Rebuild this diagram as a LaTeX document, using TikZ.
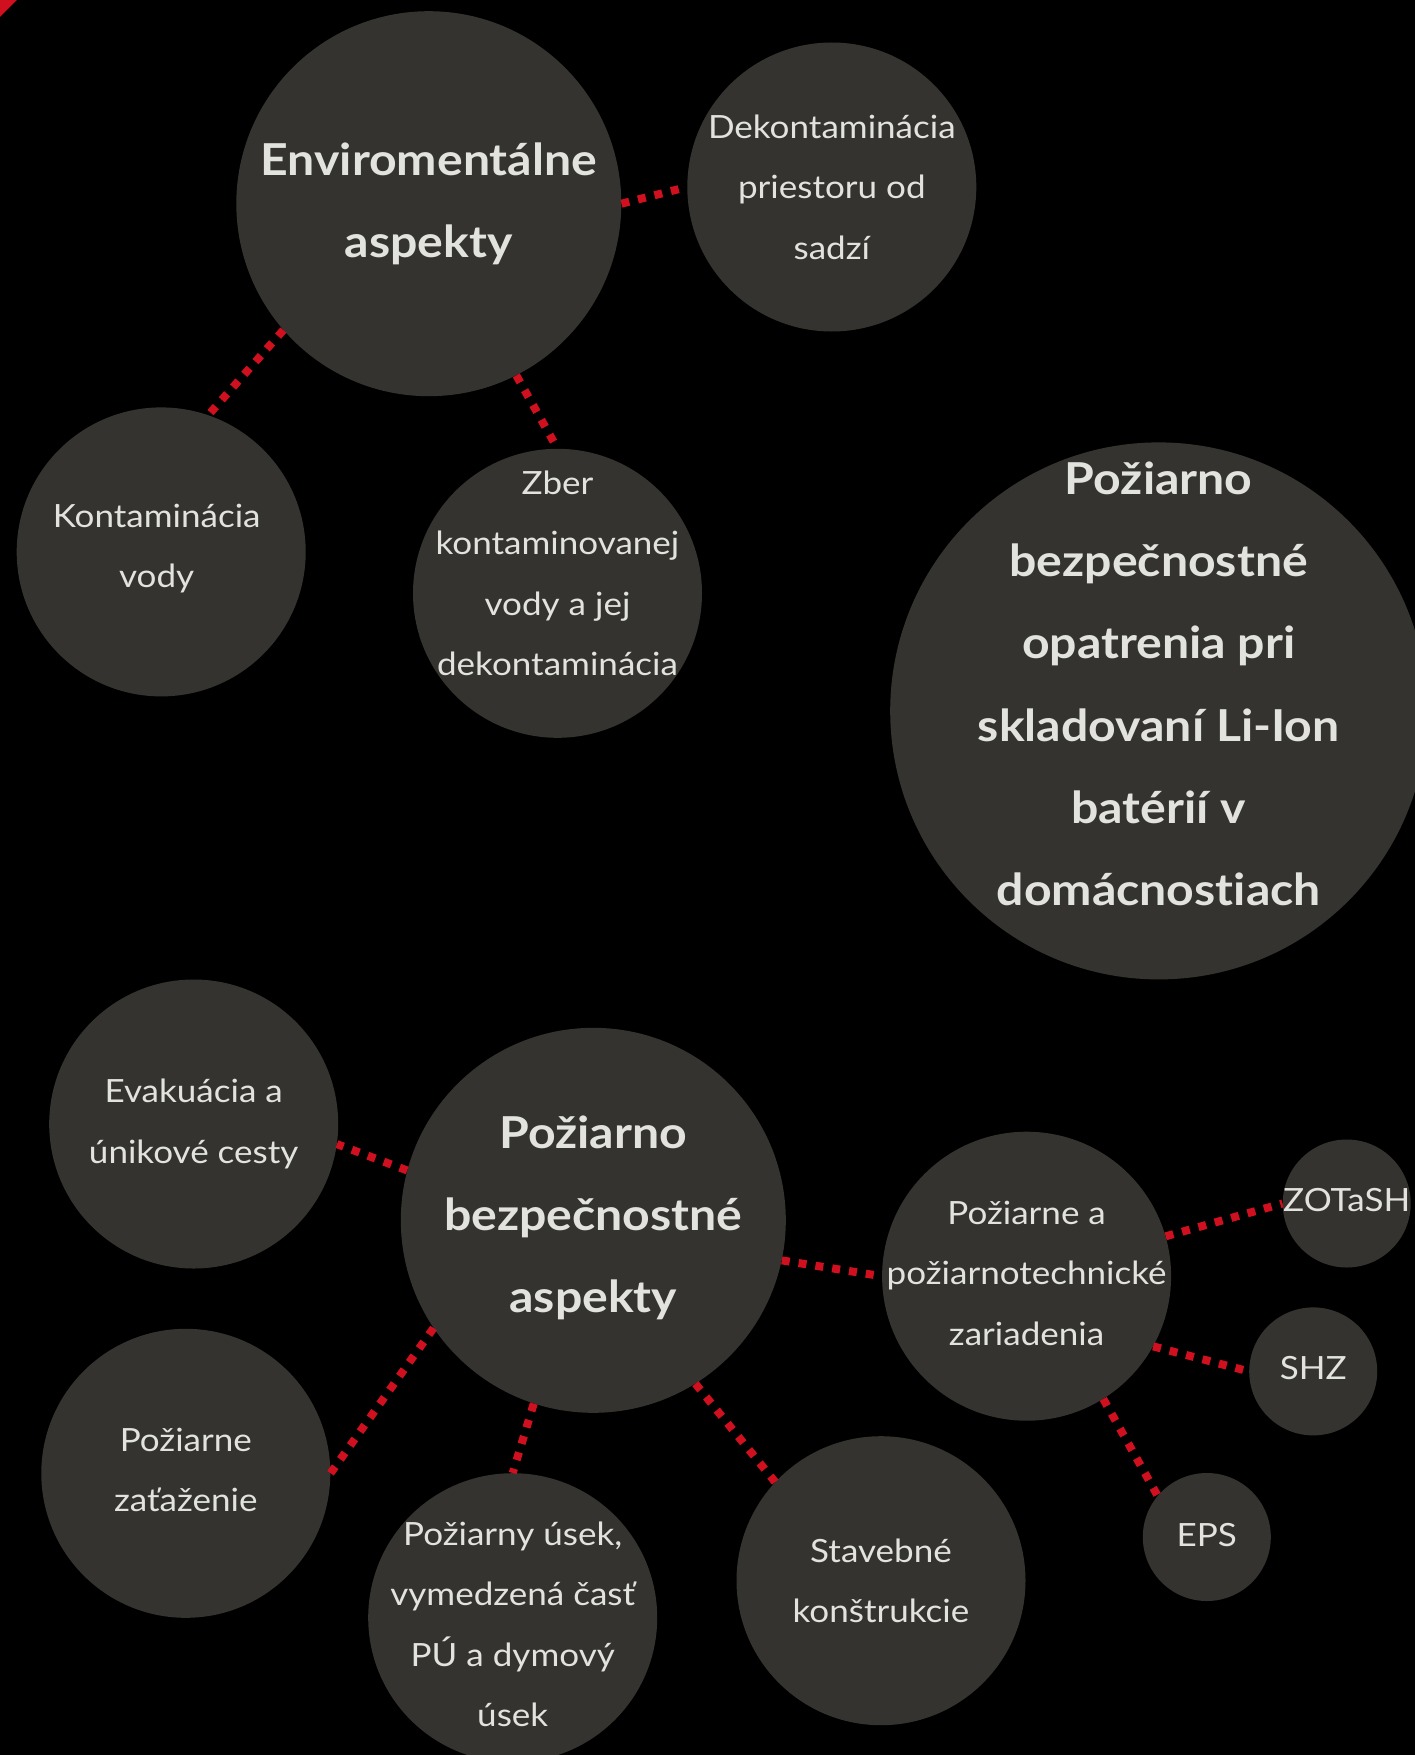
\documentclass[tikz,border=0pt]{standalone}
\usepackage{fontspec}
\setmainfont{Lato}[FakeStretch=1.095,Ligatures={NoCommon,NoDiscretionary,NoRare}]
\definecolor{bubble}{HTML}{34332F}
\definecolor{txt}{HTML}{E2E2DF}
\definecolor{dotred}{HTML}{D0101E}
\begin{document}
\begin{tikzpicture}[x=1pt,y=-1pt,
  big/.style={circle,fill=bubble,minimum size=385pt,inner sep=0pt},
  mid/.style={circle,fill=bubble,minimum size=289pt,inner sep=0pt},
  sml/.style={circle,fill=bubble,minimum size=128pt,inner sep=0pt},
  huge/.style={circle,fill=bubble,minimum size=537pt,inner sep=0pt},
  lbl/.style={text=txt,align=center,inner sep=0pt,font=\fontsize{32}{60.5}\selectfont},
  blbl/.style={text=txt,align=center,inner sep=0pt,font=\fontsize{44}{82.3}\selectfont\bfseries},
  link/.style={draw=dotred,line width=8pt,dash pattern=on 8pt off 9pt}]
\fill[black] (0,0) rectangle (1415,1755);
\useasboundingbox (0,0) rectangle (1415,1755);
\clip (0,0) rectangle (1415,1755);
\fill[dotred] (0,0) -- (17,0) -- (0,17) -- cycle;
% circles
\node[big]  (env)  at (428.8,203.7) {};
\node[mid]  (dek)  at (831.8,187.0) {};
\node[mid]  (kon)  at (161.2,551.9) {};
\node[mid]  (zber) at (557.5,593.3) {};
\node[huge] (opat) at (1158.7,710.9) {};
\node[big]  (pba)  at (593.3,1220.3) {};
\node[mid]  (evak) at (193.7,1124.0) {};
\node[mid]  (zat)  at (185.8,1473.3) {};
\node[mid]  (usek) at (512.7,1617.7) {};
\node[mid]  (stav) at (881.0,1580.7) {};
\node[mid]  (pza)  at (1026.6,1276.2) {};
\node[sml]  (zot)  at (1346.7,1203.5) {};
\node[sml]  (shz)  at (1313.2,1371.4) {};
\node[sml]  (eps)  at (1206.8,1537.0) {};
% connectors
\draw[link] (env.0) -- (dek.180);
\draw[link] (env.221.5) -- (kon.71.6);
\draw[link] (env.297) -- (zber.90);
\draw[link] (pba.165) -- (evak.-8);
\draw[link] (pba.214.5) -- (zat.0);
\draw[link] (pba.252.4) -- (usek.90);
\draw[link] (pba.302.3) -- (stav.137);
\draw[link] (pba.-12.3) -- (pza.180);
\draw[link] (pza.16.4) -- (zot.180);
\draw[link] (pza.-29) -- (shz.180);
\draw[link] (pza.-58.7) -- (eps.140);
% texts
\node[blbl] (tenv) at (428.8,203.7) {Enviromentálne\\aspekty};
\node[lbl] (tdek) at (831.8,187.0) {Dekontaminácia\\priestoru od\\sadzí};
\node[lbl] (tkon) at (156.7,548.6) {Kontaminácia\\vody};
\node[lbl] (tzber) at (557.5,573.2) {Zber\\kontaminovanej\\vody a jej\\dekontaminácia};
\node[blbl] (topat) at (1158.7,684.0) {Požiarno\\bezpečnostné\\opatrenia pri\\skladovaní Li-Ion\\batérií v\\domácnos\kern0pt t\kern0pt iach};
\node[blbl] (tpba) at (593.3,1218.0) {Požiarno\\bezpečnostné\\aspekty};
\node[lbl] (tevak) at (193.7,1124.0) {Evakuácia a\\únikové cesty};
\node[lbl] (tzat) at (185.8,1470.0) {Požiarne\\zaťaženie};
\node[lbl] (tusek) at (512.7,1624.4) {Požiarny úsek,\\vymedzená časť\\PÚ a dymový\\úsek};
\node[lbl] (tstav) at (881.0,1580.7) {Stavebné\\konštrukcie};
\node[lbl] (tpza) at (1026.6,1273.0) {Požiarne a\\požiarnotechnické\\zariadenia};
\node[lbl] (tzot) at (1346.7,1200.5) {ZOTaSH};
\node[lbl] (tshz) at (1313.2,1368.0) {SHZ};
\node[lbl] (teps) at (1206.8,1535.0) {EPS};
\end{tikzpicture}
\end{document}
